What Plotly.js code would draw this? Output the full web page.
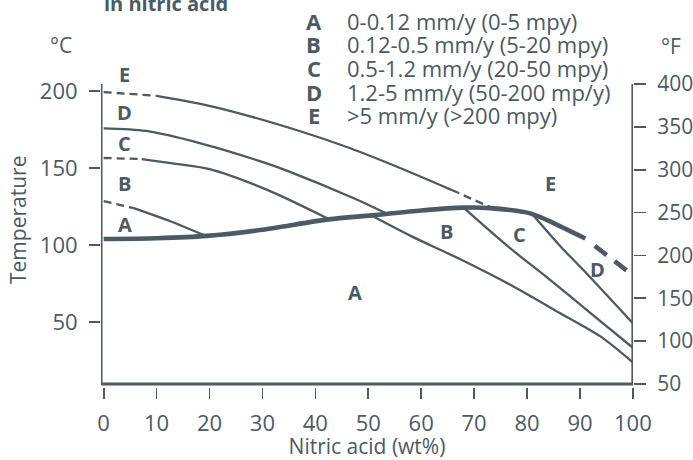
<!DOCTYPE html>
<html><head><meta charset="utf-8">
<script src="https://cdn.plot.ly/plotly-3.0.1.min.js"></script>
<style>html,body{margin:0;padding:0;background:#fff}</style>
</head><body><div id="chart" style="width:693px;height:460px"></div>
<script>
const INK = '#4b5a63';
const FONT = 'Open Sans, Noto Sans, sans-serif';

// ---- axis ticks ----
const xTicks = [0, 10, 20, 30, 40, 50, 60, 70, 80, 90, 100];
const cTicks = [50, 100, 150, 200];
const fTicks = [50, 100, 150, 200, 250, 300, 350, 400];

// ---- legend ----
const legendKeys = ['A', 'B', 'C', 'D', 'E'];
const legendTexts = [
  '0-0.12 mm/y (0-5 mpy)',
  '0.12-0.5 mm/y (5-20 mpy)',
  '0.5-1.2 mm/y (20-50 mpy)',
  '1.2-5 mm/y (50-200 mp/y)',
  '>5 mm/y (>200 mpy)'
];

// ---- boiling curve (thick) : wt% HNO3 vs °C ----
const boilX = [0, 10, 19.5, 30, 42.5, 50.7, 60, 68, 73, 80.6, 85.5, 91];
const boilY = [104, 104.5, 106, 110, 116.7, 119.3, 122.5, 124.3, 124, 120.6, 113.5, 104.3];
const boilDashX = [92.8, 100];
const boilDashY = [99.5, 80.5];

// ---- iso-corrosion boundaries ----
const abDashX = [0, 5.7];            const abDashY = [128.5, 124];
const abX = [5.7, 12.6, 19.3];       const abY = [124, 115.5, 106];
const bcDashX = [0, 7.2];            const bcDashY = [156.5, 155.8];
const bcX = [7.2, 13, 20, 30.8, 42.5]; const bcY = [155.8, 153, 149.3, 136, 117];
const cdX = [0, 8, 18.3, 30.8, 35.2, 46.6, 53.5];
const cdY = [175.7, 174, 166, 153, 147.5, 131.4, 120.5];
const deDashX = [0, 10];             const deDashY = [199.2, 196.8];
const deX = [10, 20.8, 37, 46.6, 56, 65.8];
const deY = [196.8, 189.7, 174, 162.8, 150, 135.7];
const deDash2X = [65.8, 73.3];       const deDash2Y = [135.7, 124.3];
const abRightX = [50.7, 58, 67.3, 77, 86.2, 93.8, 100];
const abRightY = [119, 106, 91, 74, 56, 41, 24];
const bcRightX = [68, 76.8, 84, 92, 100];
const bcRightY = [124.3, 98, 78.5, 56, 33.5];
const cdRightX = [81, 86.5, 90.6, 100];
const cdRightY = [120, 98.5, 84, 49.3];

// ---- region labels (wt%, °C) ----
const regionText = ['E', 'D', 'C', 'B', 'A', 'A', 'B', 'C', 'E', 'D'];
const regionX = [4, 4, 4, 4, 4, 47.5, 64.7, 78.5, 84.5, 93.3];
const regionY = [210.9, 185.8, 166, 140.1, 113.1, 69, 108.7, 106.6, 140.1, 83.9];

const THIN = 2.3, THICK = 4.6;
const traces = [];
function addLine(xs, ys, width, dash) {
  traces.push({
    type: 'scatter', mode: 'lines', x: xs, y: ys,
    line: {color: INK, width: width, dash: dash || 'solid',
           shape: xs.length > 2 ? 'spline' : 'linear', smoothing: 0.8},
    hoverinfo: 'skip', showlegend: false
  });
}
const thinDash = '8px,5px';
addLine(abDashX, abDashY, THIN, thinDash);
addLine(abX, abY, THIN);
addLine(bcDashX, bcDashY, THIN, thinDash);
addLine(bcX, bcY, THIN);
addLine(cdX, cdY, THIN);
addLine(deDashX, deDashY, THIN, thinDash);
addLine(deX, deY, THIN);
addLine(deDash2X, deDash2Y, THIN, thinDash);
addLine(abRightX, abRightY, THIN);
addLine(bcRightX, bcRightY, THIN);
addLine(cdRightX, cdRightY, THIN);
addLine(boilX, boilY, THICK);
addLine(boilDashX, boilDashY, THICK, '15px,10px');
// empty trace so that the °F axis (y2) is drawn
traces.push({type: 'scatter', mode: 'lines', x: [], y: [], yaxis: 'y2', xaxis: 'x',
  hoverinfo: 'skip', showlegend: false});

// plot-area geometry (pixels) for paper placement
const L = 101, R = 633, T = 84, B = 387;
const px = v => (v - L) / (R - L);
const py = v => (B - v) / (B - T);
const xRange = [-0.5, 100.02];
const cLo = 10 - 3 / (300 / 194.444);
const yRange = [cLo, 204.45];
const dx = v => (v - xRange[0]) / (xRange[1] - xRange[0]);
const dy = v => (v - yRange[0]) / (yRange[1] - yRange[0]);

const annotations = [];
legendKeys.forEach((k, i) => {
  const yc = 20.7 + i * 23.6;
  annotations.push({xref: 'paper', yref: 'paper', x: px(313.5), y: py(yc), text: '<b>' + k + '</b>',
    showarrow: false, xanchor: 'center', yanchor: 'middle', font: {family: FONT, size: 22, color: INK}});
  annotations.push({xref: 'paper', yref: 'paper', x: px(345), y: py(yc), text: legendTexts[i],
    showarrow: false, xanchor: 'left', yanchor: 'middle', font: {family: FONT, size: 22, color: INK}});
});
regionText.forEach((t, i) => {
  annotations.push({xref: 'paper', yref: 'paper', x: dx(regionX[i]), y: dy(regionY[i]), text: '<b>' + t + '</b>',
    showarrow: false, xanchor: 'center', yanchor: 'middle', font: {family: FONT, size: 20, color: INK}});
});
annotations.push({xref: 'paper', yref: 'paper', x: px(165.5), y: py(4), text: '<b>in nitric acid</b>',
  showarrow: false, xanchor: 'center', yanchor: 'middle', font: {family: FONT, size: 20, color: INK}});
annotations.push({xref: 'paper', yref: 'paper', x: px(61), y: py(45), text: '°C',
  showarrow: false, xanchor: 'center', yanchor: 'middle', font: {family: FONT, size: 21, color: INK}});
annotations.push({xref: 'paper', yref: 'paper', x: px(671), y: py(46), text: '°F',
  showarrow: false, xanchor: 'center', yanchor: 'middle', font: {family: FONT, size: 21, color: INK}});
annotations.push({xref: 'paper', yref: 'paper', x: px(18), y: py(220), text: 'Temperature', textangle: -90,
  showarrow: false, xanchor: 'center', yanchor: 'middle', font: {family: FONT, size: 21, color: INK}});

const layout = {
  width: 693, height: 460,
  margin: {l: L, r: 693 - R, t: T, b: 460 - B, pad: 0},
  paper_bgcolor: '#fff', plot_bgcolor: '#fff',
  font: {family: FONT, color: INK},
  showlegend: false,
  xaxis: {range: xRange, tickvals: xTicks, ticktext: xTicks.map(String),
    ticks: 'outside', ticklen: 11, tickwidth: 1.7, tickcolor: INK,
    showline: false, showgrid: false, zeroline: false, ticklabelstandoff: 6,
    tickfont: {family: FONT, size: 22, color: INK},
    title: {text: 'Nitric acid (wt%)', font: {family: FONT, size: 21, color: INK}, standoff: 0}},
  yaxis: {range: yRange, tickvals: cTicks, ticktext: cTicks.map(String),
    ticks: 'outside', ticklen: 11, tickwidth: 1.7, tickcolor: INK,
    showline: false, showgrid: false, zeroline: false, ticklabelstandoff: 7,
    tickfont: {family: FONT, size: 22, color: INK}},
  yaxis2: {overlaying: 'y', side: 'right', anchor: 'x', range: [cLo * 1.8 + 32, 400.01],
    tickvals: fTicks, ticktext: fTicks.map(String),
    ticks: 'outside', ticklen: 12, tickwidth: 1.7, tickcolor: INK,
    showline: false, showgrid: false, zeroline: false, ticklabelstandoff: 7,
    tickfont: {family: FONT, size: 21, color: INK}},
  shapes: [{type: 'path', xref: 'x', yref: 'y',
    path: 'M -0.5,204.444 L -0.5,10 L 100,10 L 100,204.444',
    line: {color: INK, width: 3}}],
  annotations: annotations
};
Plotly.newPlot('chart', traces, layout, {staticPlot: true, displayModeBar: false});
</script></body></html>
